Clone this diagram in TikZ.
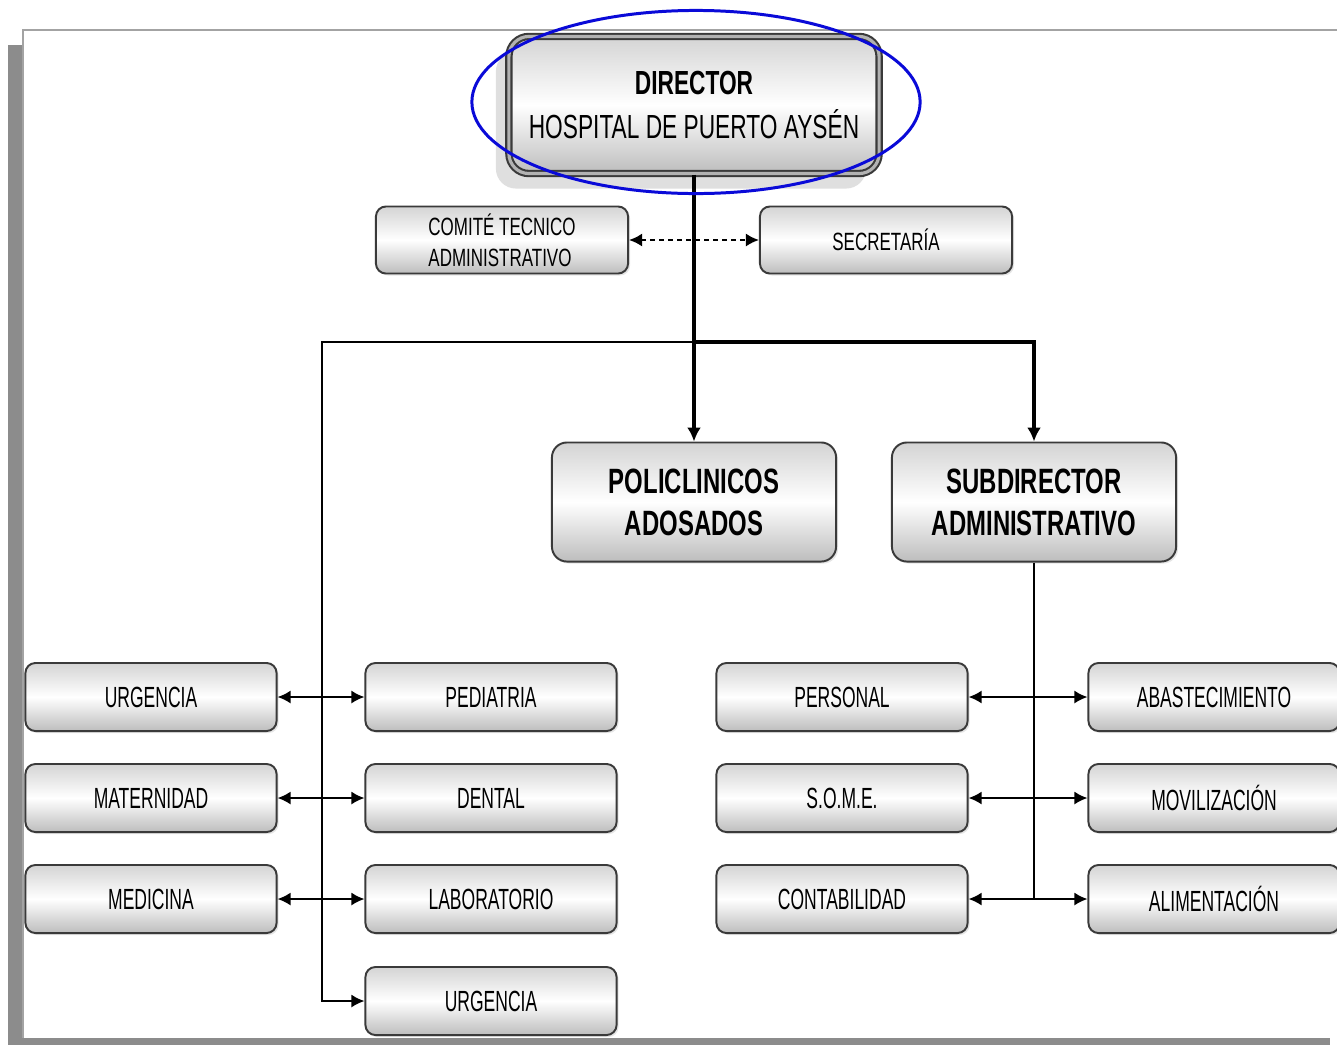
\documentclass[tikz,border=0pt]{standalone}
\usepackage{fontspec}
\setmainfont{Liberation Sans}[FakeStretch=0.6]
\newfontfamily\headfont{Liberation Sans}[FakeStretch=0.68]
\usepackage{tikz}
\usetikzlibrary{arrows.meta,positioning,shapes.geometric,shadows}
\definecolor{framegray}{HTML}{8C8C8C}
\definecolor{boxline}{HTML}{3A3A3A}
\definecolor{shadetop}{HTML}{D4D4D4}
\definecolor{shadebot}{HTML}{BDBDBD}
\definecolor{markblue}{HTML}{0A0AD8}
\tikzset{
  unitbox/.style={draw=boxline, line width=0.55pt, rounded corners=1mm, top color=shadetop, bottom color=shadebot, middle color=white, align=center, inner sep=1pt, minimum width=2.51cm, minimum height=0.68cm, font=\fontsize{8.3}{9}\selectfont, drop shadow={shadow xshift=0.2mm, shadow yshift=-0.2mm, opacity=0.2}},
  staffbox/.style={unitbox, align=left, font=\headfont\fontsize{7.1}{8.8}\selectfont, minimum width=2.52cm, minimum height=0.67cm},
  deptbox/.style={unitbox, rounded corners=1.5mm, minimum width=2.84cm, minimum height=1.19cm, font=\headfont\bfseries\fontsize{10}{12}\selectfont},
  chiefbox/.style={unitbox, rounded corners=2mm, double=gray!60, double distance=0.9pt, line width=0.6pt, minimum width=3.7cm, minimum height=1.37cm, font=\headfont\fontsize{9.5}{12.5}\selectfont, drop shadow={shadow xshift=-1.3mm, shadow yshift=-1.5mm, opacity=0.25}},
  thinline/.style={draw=black, line width=0.55pt},
  thinarrow/.style={thinline, -{Latex[length=1.3mm, width=1.3mm]}},
  dblarrow/.style={thinline, {Latex[length=1.3mm, width=1.3mm]}-{Latex[length=1.3mm, width=1.3mm]}},
  dasharrow/.style={thinline, dashed, dash pattern=on 0.5mm off 0.4mm, {Latex[length=1.3mm, width=1.3mm]}-{Latex[length=1.3mm, width=1.3mm]}},
  boldarrow/.style={draw=black, line width=1.1pt, -{Latex[length=1.4mm, width=1.4mm]}}
}

\begin{document}
\begin{tikzpicture}[x=0.01cm, y=-0.01cm]
  \clip (0,0) rectangle (1337,1045);
  \fill[white] (0,0) rectangle (1337,1045);
  % page frame
  \fill[framegray] (8,45) rectangle (22,1045);
  \fill[framegray] (8,1038) rectangle (1330,1045);
  \draw[framegray!80, line width=0.6pt] (23,1038) -- (23,30) -- (1337,30);

  \node[chiefbox] (director) at (694,105) {\textbf{DIRECTOR}\\HOSPITAL DE PUERTO AYSÉN};
  \node[staffbox] (comite) at (502,240) {COMITÉ TECNICO\\ADMINISTRATIVO};
  \node[staffbox, align=center] (secre) at (886,240) {SECRETARÍA};

  \node[deptbox] (poli) at (694,502) {POLICLINICOS\\ADOSADOS};
  \node[deptbox] (subdir) at (1034,502) {SUBDIRECTOR\\ADMINISTRATIVO};

  \node[unitbox] (urgA) at (151,697) {URGENCIA};
  \node[unitbox] (mater) at (151,798) {MATERNIDAD};
  \node[unitbox] (medic) at (151,899) {MEDICINA};
  \node[unitbox] (pedia) at (491,697) {PEDIATRIA};
  \node[unitbox] (dental) at (491,798) {DENTAL};
  \node[unitbox] (labor) at (491,899) {LABORATORIO};
  \node[unitbox] (urgB) at (491,1001) {URGENCIA};

  \node[unitbox] (perso) at (842,697) {PERSONAL};
  \node[unitbox] (some) at (842,798) {S.O.M.E.};
  \node[unitbox] (conta) at (842,899) {CONTABILIDAD};
  \node[unitbox] (abast) at (1214,697) {ABASTECIMIENTO};
  \node[unitbox] (movil) at (1214,798) {MOVILIZACIÓN};
  \node[unitbox] (alime) at (1214,899) {ALIMENTACIÓN};

  \coordinate (split) at (694,342);
  \coordinate (leftbus) at (322,342);

  \draw[dasharrow] (comite.east) -- (secre.west);
  \draw[boldarrow] (director.south) -- (poli.north);
  \draw[boldarrow] (split) -| (subdir.north);
  \draw[thinarrow] (split) -- (leftbus) |- (urgB.west);
  \draw[thinline] (subdir.south) -- (subdir.south |- conta.east);

  \draw[dblarrow] (urgA.east) -- (pedia.west);
  \draw[dblarrow] (mater.east) -- (dental.west);
  \draw[dblarrow] (medic.east) -- (labor.west);
  \draw[dblarrow] (perso.east) -- (abast.west);
  \draw[dblarrow] (some.east) -- (movil.west);
  \draw[dblarrow] (conta.east) -- (alime.west);

  \node[ellipse, draw=markblue, line width=0.85pt, minimum width=4.48cm, minimum height=1.83cm] (highlight) at (696,102) {};
\end{tikzpicture}
\end{document}
